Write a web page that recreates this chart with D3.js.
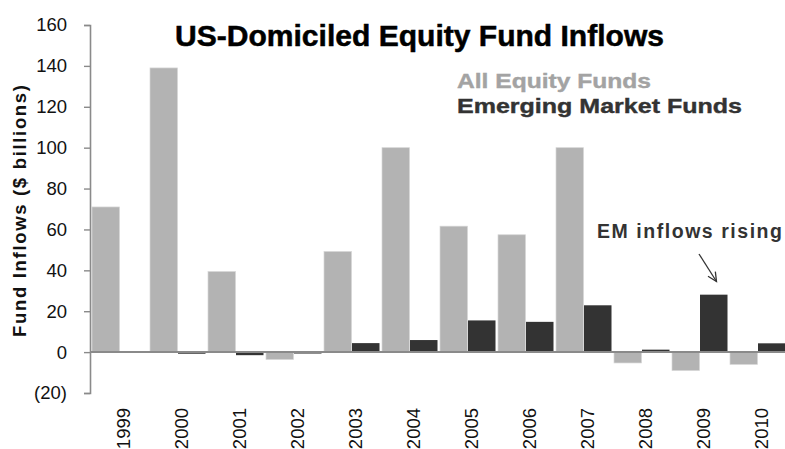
<!DOCTYPE html>
<html>
<head>
<meta charset="utf-8">
<script src="https://cdn.jsdelivr.net/npm/d3@7"></script>
<style>
html,body{margin:0;padding:0;background:#fff;}
svg{display:block;font-family:"Liberation Sans",Arial,Helvetica,sans-serif;}
</style>
</head>
<body>
<svg id="chart" width="785" height="449"></svg>
<script>
const years = ["1999","2000","2001","2002","2003","2004","2005","2006","2007","2008","2009","2010"];
const allEquity = [71, 139, 39.4, -3.6, 49.2, 100, 61.6, 57.4, 100, -5.3, -9, -6];
const emergingMarket = [0.4, -0.8, -1.5, -0.7, 4.4, 5.9, 15.5, 14.8, 22.9, 1.2, 28.1, 4.3];
const yTicks = [-20, 0, 20, 40, 60, 80, 100, 120, 140, 160];
const seriesNames = ["All Equity Funds", "Emerging Market Funds"];
const seriesColors = ["#b3b3b3", "#333333"];

const svg = d3.select("#chart");
const axisX = 90, rightX = 786;

const x = d3.scaleBand().domain(years).range([axisX, rightX]).padding(0);
const sub = d3.scaleBand().domain([0, 1]).range([2, x.bandwidth()]).padding(0);
const y = d3.scaleLinear().domain([-20, 160]).range([393, 25]);

// bars
const rows = years.map((yr, i) => ({yr, vals: [allEquity[i], emergingMarket[i]]}));
const g = svg.append("g");
rows.forEach(r => {
  r.vals.forEach((v, s) => {
    g.append("rect")
      .attr("x", x(r.yr) + sub(s))
      .attr("width", sub.bandwidth() - 0.5)
      .attr("y", y(Math.max(0, v)))
      .attr("height", Math.max(0.8, Math.abs(y(v) - y(0))))
      .attr("fill", seriesColors[s])
      .attr("stroke", s === 0 ? "#d6d6d6" : "none")
      .attr("stroke-width", 0.7);
  });
});

// zero line
svg.append("line").attr("x1", axisX).attr("x2", 785)
  .attr("y1", y(0)).attr("y2", y(0))
  .attr("stroke", "#8a8a8a").attr("stroke-width", 2);

// y axis
const yAxis = d3.axisLeft(y).tickValues(yTicks).tickSize(6).tickPadding(17)
  .tickFormat(d => d < 0 ? "(" + Math.abs(d) + ")" : d);
const ya = svg.append("g").attr("transform", `translate(${axisX},0)`).call(yAxis);
ya.select(".domain").attr("stroke", "#8a8a8a").attr("stroke-width", 1.6);
ya.selectAll(".tick line").attr("stroke", "#8a8a8a").attr("stroke-width", 1.4);
ya.selectAll(".tick text").attr("font-size", 18.5).attr("fill", "#111")
  .attr("font-family", "Liberation Sans, Arial, sans-serif");

// x labels
svg.append("g").selectAll("text").data(years).join("text")
  .attr("transform", d => `translate(${x(d) + x.bandwidth() / 2 + 10.5},408) rotate(-90)`)
  .attr("text-anchor", "end")
  .attr("font-size", 18.5).attr("fill", "#111")
  .text(d => d);

// y title
svg.append("text")
  .attr("transform", "translate(26,211) rotate(-90)")
  .attr("text-anchor", "middle")
  .attr("font-size", 18.5).attr("font-weight", "bold").attr("fill", "#111")
  .attr("textLength", 252).attr("lengthAdjust", "spacing")
  .text("Fund Inflows ($ billions)");

// title
svg.append("text")
  .attr("x", 175).attr("y", 46)
  .attr("font-size", 29).attr("font-weight", "bold").attr("fill", "#000")
  .attr("stroke", "#000").attr("stroke-width", 0.5)
  .attr("textLength", 489).attr("lengthAdjust", "spacingAndGlyphs")
  .text("US-Domiciled Equity Fund Inflows");

// legend
const legendY = [88, 113];
const legendW = [194, 285];
const legendC = ["#a3a3a3", "#333333"];
seriesNames.forEach((n, i) => {
  svg.append("text")
    .attr("x", 457).attr("y", legendY[i])
    .attr("font-size", 20.5).attr("font-weight", "bold").attr("fill", legendC[i])
    .attr("stroke", legendC[i]).attr("stroke-width", 0.4)
    .attr("textLength", legendW[i]).attr("lengthAdjust", "spacingAndGlyphs")
    .text(n);
});

// annotation
svg.append("text")
  .attr("x", 597).attr("y", 238)
  .attr("font-size", 19.5).attr("font-weight", "bold").attr("fill", "#333")
  .attr("textLength", 185).attr("lengthAdjust", "spacing")
  .text("EM inflows rising");

const ax1 = 699, ay1 = 254, ax2 = 716.5, ay2 = 281.5;
svg.append("line").attr("x1", ax1).attr("y1", ay1).attr("x2", ax2).attr("y2", ay2)
  .attr("stroke", "#333").attr("stroke-width", 1.3);
const ang = Math.atan2(ay2 - ay1, ax2 - ax1);
const hl = 10, ha = 0.45;
svg.append("path")
  .attr("d", `M${ax2 - hl * Math.cos(ang - ha)},${ay2 - hl * Math.sin(ang - ha)} L${ax2},${ay2} L${ax2 - hl * Math.cos(ang + ha)},${ay2 - hl * Math.sin(ang + ha)}`)
  .attr("fill", "none").attr("stroke", "#333").attr("stroke-width", 1.3);
</script>
</body>
</html>
